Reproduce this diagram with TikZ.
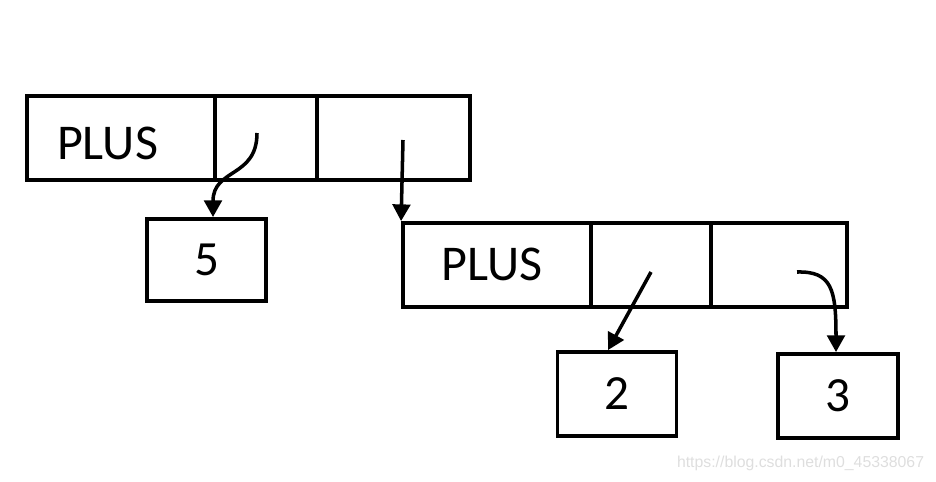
\documentclass[tikz,border=0pt]{standalone}
\usepackage{fontspec}
\setmainfont{Carlito}
\newfontfamily\markfont{Liberation Sans}
\usetikzlibrary{arrows.meta}
\definecolor{wasser}{RGB}{222,222,222}

\begin{document}
\begin{tikzpicture}[x=0.02cm, y=-0.02cm, line width=2.2pt,
	cell/.style={draw, rectangle, inner sep=0pt, minimum height=1.68cm},
	leaf/.style={draw, rectangle, inner sep=0pt, minimum width=2.38cm, minimum height=1.64cm,
		font=\fontsize{28}{31}\selectfont},
	word/.style={font=\fontsize{28.5}{31}\selectfont, inner sep=0pt},
	ptr/.style={-{Triangle[length=9.5pt,width=10pt]}, line width=2pt},
]
\useasboundingbox (0,0) rectangle (936,481);

% obere Liste
\node[cell, minimum width=3.76cm] (plusA) at (121,138) {};
\node[cell, minimum width=2.04cm] (ptrA1) at (266,138) {};
\node[cell, minimum width=3.06cm] (ptrA2) at (393.5,138) {};
\node[word] (txtA) at (107.5,143) {PLUS};

\node[leaf] (five) at (206.5,260) {5};

% untere Liste
\node[cell, minimum width=3.76cm] (plusB) at (497,265) {};
\node[cell, minimum width=2.40cm] (ptrB1) at (651,265) {};
\node[cell, minimum width=2.72cm] (ptrB2) at (779,265) {};
\node[word] (txtB) at (492,264) {PLUS};

\node[leaf, minimum height=1.68cm] (two) at (617,394) {2};
\node[leaf, minimum width=2.40cm, minimum height=1.68cm] (three) at (838,396) {3};

% Zeiger
\coordinate (a1) at (257,133);
\coordinate (a2) at (403,140);
\coordinate (b1) at (651,272);
\coordinate (b2) at (797,272);

\draw[ptr] (a1) .. controls (257,178) and (213,168) .. (five.north -| 213,0);
\draw[ptr] (a2) -- (plusB.north west);
\draw[ptr] (b1) -- (two.north -| 608,0);
\draw[ptr] (b2) .. controls (832,271) and (836,290) .. (three.north -| 836,0);

\node[wasser, anchor=east, inner sep=0pt, font=\markfont\fontsize{9}{11}\selectfont] (mark) at (926,463)
	{https://blog.csdn.net/m0\_45338067};

\end{tikzpicture}
\end{document}
